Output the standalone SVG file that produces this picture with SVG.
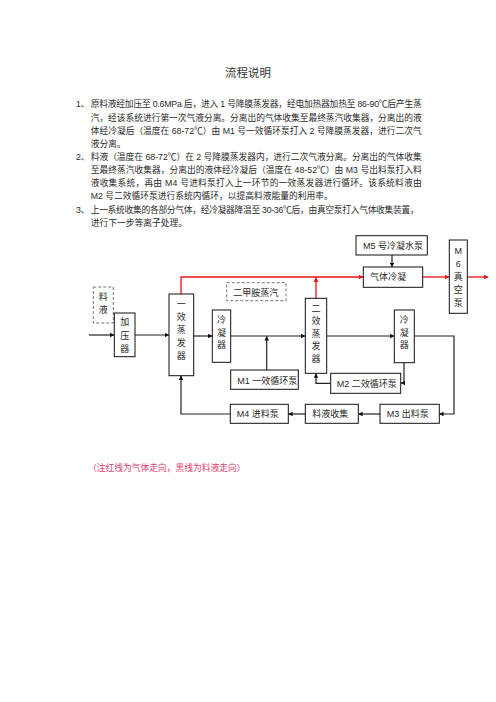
<svg xmlns="http://www.w3.org/2000/svg" width="496" height="702" viewBox="0 0 496 702">
<defs>
<marker id="ab" viewBox="0 0 10 10" refX="9" refY="5" markerWidth="4.5" markerHeight="4.5" orient="auto" markerUnits="userSpaceOnUse"><path d="M0,0 L10,5 L0,10 z" fill="#111"/></marker>
<marker id="ar" viewBox="0 0 10 10" refX="9" refY="5" markerWidth="5" markerHeight="5" orient="auto" markerUnits="userSpaceOnUse"><path d="M0,0 L10,5 L0,10 z" fill="#e8141c"/></marker>
<style>
text{font-family:"Liberation Sans","Noto Sans CJK SC",sans-serif;fill:#2a2a2a}
.p{font-size:8.75px}
.t{font-size:11.5px;fill:#333}
.l{font-size:9px}
.v{font-size:9px;text-anchor:middle}
.box{fill:#fff;stroke:#111;stroke-width:1}
.dash{fill:none;stroke:#666;stroke-width:0.9;stroke-dasharray:3,2}
.k{fill:none;stroke:#222;stroke-width:1.2;marker-end:url(#ab)}
.kn{fill:none;stroke:#222;stroke-width:1.2}
.r{fill:none;stroke:#e8141c;stroke-width:1.3;marker-end:url(#ar)}
.note{font-size:8.75px;fill:#e2406e}
</style>
</defs>
<rect width="496" height="702" fill="#fff"/>
<text class="t" x="225" y="77">流程说明</text>
<g id="text">
<text class="p" x="76" y="107.3">1、</text>
<text class="p" x="90.7" y="107.3" textLength="331" lengthAdjust="spacing">原料液经加压至 0.6MPa 后，进入 1 号降膜蒸发器，经电加热器加热至 86-90℃后产生蒸</text>
<text class="p" x="90.7" y="120.5" textLength="331" lengthAdjust="spacing">汽，经该系统进行第一次气液分离。分离出的气体收集至最终蒸汽收集器，分离出的液</text>
<text class="p" x="90.7" y="133.6" textLength="331" lengthAdjust="spacing">体经冷凝后（温度在 68-72℃）由 M1 号一效循环泵打入 2 号降膜蒸发器，进行二次气</text>
<text class="p" x="90.7" y="146.8">液分离。</text>
<text class="p" x="76" y="159.9">2、</text>
<text class="p" x="90.7" y="159.9" textLength="331" lengthAdjust="spacing">料液（温度在 68-72℃）在 2 号降膜蒸发器内，进行二次气液分离。分离出的气体收集</text>
<text class="p" x="90.7" y="173.1" textLength="331" lengthAdjust="spacing">至最终蒸汽收集器，分离出的液体经冷凝后（温度在 48-52℃）由 M3 号出料泵打入料</text>
<text class="p" x="90.7" y="186.2" textLength="331" lengthAdjust="spacing">液收集系统，再由  M4  号进料泵打入上一环节的一效蒸发器进行循环。该系统料液由</text>
<text class="p" x="90.7" y="199.4">M2 号二效循环泵进行系统内循环，以提高料液能量的利用率。</text>
<text class="p" x="76" y="212.5">3、</text>
<text class="p" x="90.7" y="212.5" textLength="328" lengthAdjust="spacing">上一系统收集的各部分气体，经冷凝器降温至 30-36℃后，由真空泵打入气体收集装置，</text>
<text class="p" x="90.7" y="225.7">进行下一步等离子处理。</text>
</g>
<g id="connectors">
<path class="r" d="M181,294 V277 H363"/>
<path class="r" d="M316,298 V277.6"/>
<path class="r" d="M422.7,277 H449"/>
<path class="r" d="M467.3,277 H488"/>
<path class="k" d="M89,335 H114"/>
<path class="k" d="M135,335 H168.8"/>
<path class="k" d="M193.7,336 H212"/>
<path class="k" d="M230.7,336 H305"/>
<path class="k" d="M266.7,370 V336.5"/>
<path class="k" d="M326.7,336 H394"/>
<path class="k" d="M414.3,336 H454 V414 H439.5"/>
<path class="k" d="M404,362.7 V383 H401"/>
<path class="k" d="M330.7,383.3 H316 V373.6"/>
<path class="k" d="M380,414 H358.6"/>
<path class="k" d="M305.3,414 H288.6"/>
<path class="k" d="M230.3,414 H181 V376"/>
<path class="k" d="M392,255 V266.7"/>
</g>
<g id="liao-ye"><rect class="dash" x="93.3" y="287" width="20" height="36"/><text class="v" x="103.3" y="300">料</text><text class="v" x="103.3" y="313.3">液</text></g>
<g id="jia-ya-qi"><rect class="box" x="114.3" y="313" width="20.7" height="43.7"/><text class="v" x="124.7" y="325">加</text><text class="v" x="124.7" y="339">压</text><text class="v" x="124.7" y="352.3">器</text></g>
<g id="yi-xiao"><rect class="box" x="169" y="294" width="24.7" height="81.7"/><text class="v" x="181.3" y="307.3">一</text><text class="v" x="181.3" y="320.3">效</text><text class="v" x="181.3" y="333.3">蒸</text><text class="v" x="181.3" y="346.3">发</text><text class="v" x="181.3" y="359.3">器</text></g>
<g id="leng-ning-1"><rect class="box" x="212.3" y="310" width="18.4" height="52.3"/><text class="v" x="221.5" y="322.6">冷</text><text class="v" x="221.5" y="335.6">凝</text><text class="v" x="221.5" y="348.3">器</text></g>
<g id="er-jia-an"><rect class="dash" x="226.7" y="282.7" width="59.3" height="18"/><text class="l" x="233.3" y="295.5">二甲胺蒸汽</text></g>
<g id="m1"><rect class="box" x="230.7" y="370" width="67.6" height="19.3"/><text class="l" x="237.3" y="383.5">M1 一效循环泵</text></g>
<g id="er-xiao"><rect class="box" x="305.3" y="298.3" width="21.4" height="75"/><text class="v" x="316" y="311.6">二</text><text class="v" x="316" y="324">效</text><text class="v" x="316" y="336.6">蒸</text><text class="v" x="316" y="349.3">发</text><text class="v" x="316" y="361.6">器</text></g>
<g id="m2"><rect class="box" x="330.7" y="373.3" width="70" height="20"/><text class="l" x="336.7" y="387">M2 二效循环泵</text></g>
<g id="leng-ning-2"><rect class="box" x="394.3" y="310" width="20" height="52.7"/><text class="v" x="404.3" y="322.6">冷</text><text class="v" x="404.3" y="336">凝</text><text class="v" x="404.3" y="348.3">器</text></g>
<g id="m5"><rect class="box" x="356" y="235.7" width="71.3" height="19.3"/><text class="l" x="363" y="248.5">M5 号冷凝水泵</text></g>
<g id="qi-ti-leng-ning"><rect class="box" x="363.3" y="267" width="59.4" height="20.3"/><text class="l" x="370" y="280.3">气体冷凝</text></g>
<g id="m6"><rect class="box" x="449.3" y="240" width="18" height="73.3"/><text class="v" x="458.3" y="254">M</text><text class="v" x="458.3" y="266.6">6</text><text class="v" x="458.3" y="280">真</text><text class="v" x="458.3" y="293.3">空</text><text class="v" x="458.3" y="306">泵</text></g>
<g id="m4"><rect class="box" x="230.3" y="404.3" width="58" height="19"/><text class="l" x="236.7" y="417.3">M4 进料泵</text></g>
<g id="liao-ye-shou-ji"><rect class="box" x="305.3" y="404.3" width="53" height="19"/><text class="l" x="312.3" y="417.3">料液收集</text></g>
<g id="m3"><rect class="box" x="380" y="404.3" width="59.3" height="19"/><text class="l" x="386.7" y="417.3">M3 出料泵</text></g>
<text class="note" x="88" y="471.3">（注红线为气体走向，黑线为料液走向）</text>
</svg>
